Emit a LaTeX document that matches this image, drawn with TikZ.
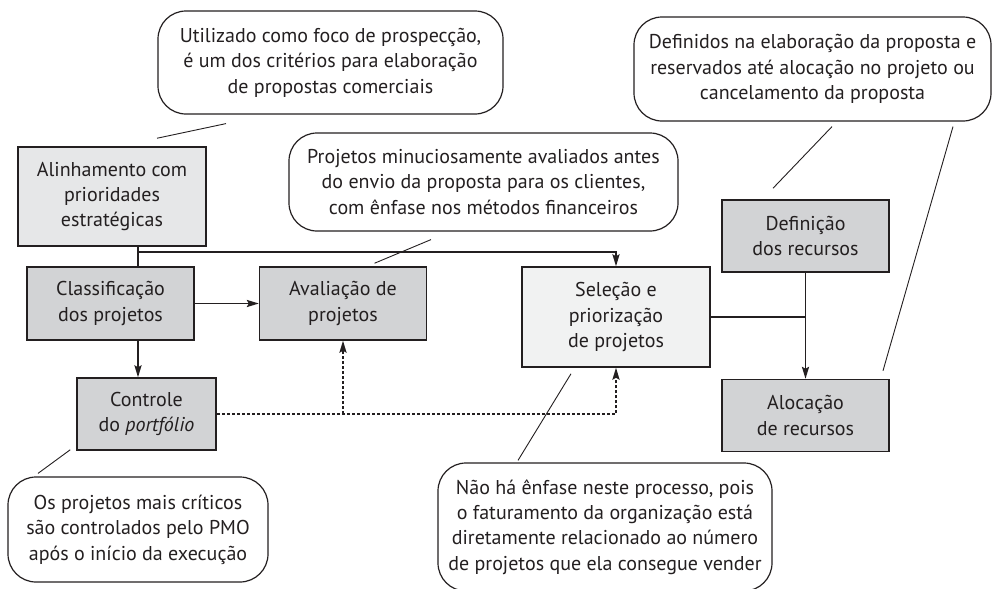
\documentclass[tikz,border=0pt]{standalone}
\usepackage{fontspec}
\setmainfont{PT Sans}
\usetikzlibrary{arrows.meta,positioning,calc}
\definecolor{boxdark}{HTML}{D2D3D5}
\definecolor{boxlight}{HTML}{E6E7E8}
\definecolor{boxpale}{HTML}{F1F2F2}
\definecolor{ink}{HTML}{231F20}
\tikzset{
	>={Stealth[length=6pt, width=3.6pt, inset=1pt]},
	every node/.style={font=\fontsize{10}{12.7}\selectfont, align=center, text=ink},
	proc/.style={draw=ink, line width=0.75pt, fill=boxdark, inner sep=0pt},
	note/.style={draw=ink, line width=0.6pt, rounded corners=14pt, inner sep=0pt},
	pointer/.style={draw=ink, line width=0.45pt},
	link/.style={draw=ink, line width=0.7pt},
	dotline/.style={link, dash pattern=on 1.5pt off 1pt},
}
\begin{document}
\begin{tikzpicture}[x=0.5pt, y=-0.5pt]
	\useasboundingbox (0,0) rectangle (992,589);
	% processos
	\node[proc, fill=boxlight, minimum width=94pt, minimum height=49.5pt] (align) at (112,196.5) {Alinhamento com\\prioridades\\estratégicas};
	\node[proc, minimum width=83.5pt, minimum height=36.5pt] (clas) at (110.5,303.5) {Classificação\\dos projetos};
	\node[proc, minimum width=83.5pt, minimum height=36.5pt, right=32pt of clas] (aval) {Avaliação de\\projetos};
	\node[proc, minimum width=69.5pt, minimum height=36pt] (ctrl) at (146.5,414) {Controle\\do \emph{portfólio}};
	\node[proc, fill=boxpale, minimum width=94pt, minimum height=50pt] (sel) at (616,317) {Seleção e\\priorização\\de projetos};
	\node[proc, minimum width=83.5pt, minimum height=36pt] (def) at (805.5,236) {Definição\\dos recursos};
	\node[proc, minimum width=83.5pt, minimum height=36pt, below=53pt of def] (aloc) {Alocação\\de recursos};
	% notas
	\node[note, minimum width=172.5pt, minimum height=51.5pt] (n1) at (330.5,62.5) {Utilizado como foco de prospecção,\\é um dos critérios para elaboração\\de propostas comerciais};
	\node[note, minimum width=194.5pt, minimum height=49pt] (n2) at (483.5,182) {Projetos minuciosamente avaliados antes\\do envio da proposta para os clientes,\\com ênfase nos métodos financeiros};
	\node[note, minimum width=178.5pt, minimum height=52pt] (n3) at (812.5,69) {Definidos na elaboração da proposta e\\reservados até alocação no projeto ou\\cancelamento da proposta};
	\node[note, minimum width=130pt, minimum height=52.5pt] (n4) at (138,529.5) {Os projetos mais críticos\\são controlados pelo PMO\\após o início da execução};
	\node[note, minimum width=167pt, minimum height=64pt] (n5) at (605,527) {Não há ênfase neste processo, pois\\o faturamento da organização está\\diretamente relacionado ao número\\de projetos que ela consegue vender};
	% ligacoes
	\coordinate (j1) at (138,252);
	\draw[link] (align.south -| j1) -- (j1) -- (clas.north -| j1);
	\draw[link, ->] (j1) -| (sel.north);
	\draw[link, ->] (clas.east) -- (aval.west);
	\draw[link, ->] (clas.south -| j1) -- (ctrl.north -| j1);
	\draw[dotline, ->] (ctrl.east) -| (sel.south);
	\draw[dotline, ->] (ctrl.east -| aval.south) -- (aval.south);
	\draw[link] (sel.east) -- (sel.east -| def.south);
	\draw[link, ->] (def.south) -- (aloc.north);
	% indicadores
	\draw[pointer] ($(n1.south)+(-104.5,9)$) -- ($(align.north)+(45,-8)$);
	\draw[pointer] ($(n2.south)+(-52.5,8)$) -- ($(aval.north)+(31.5,-3)$);
	\draw[pointer] ($(n3.south)+(19.5,5)$) -- ($(def.north)+(-32.5,-11)$);
	\draw[pointer] ($(n3.south)+(140.5,5)$) -- ($(aloc.north)+(77.5,-8)$);
	\draw[pointer] ($(ctrl.south west)+(-6,-1)$) -- ($(n4.north)+(-100,-3)$);
	\draw[pointer] ($(sel.south)+(-45,6)$) -- ($(n5.north)+(-87,-2)$);
\end{tikzpicture}
\end{document}
